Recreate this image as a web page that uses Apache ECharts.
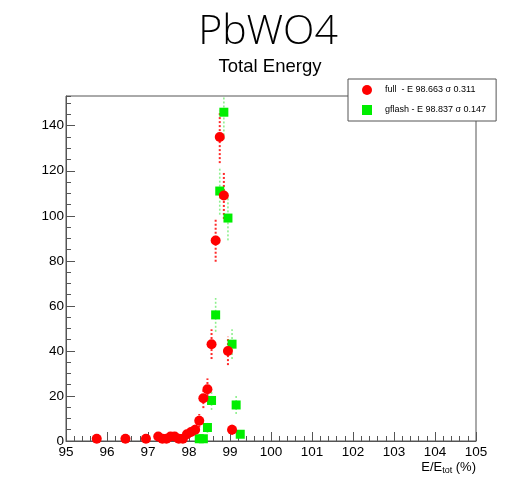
<!DOCTYPE html>
<html>
<head>
<meta charset="utf-8">
<script src="https://cdn.jsdelivr.net/npm/echarts@6/dist/echarts.min.js"></script>
<style>html,body{margin:0;padding:0;background:#fff}#c{width:509px;height:480px}</style>
</head>
<body>
<div id="c"></div>
<script>
// ---- data ----
const fullX   = [95.75, 96.45, 96.95, 97.25, 97.35, 97.45, 97.55, 97.65, 97.75, 97.85, 97.95, 98.05, 98.15, 98.25, 98.35, 98.45, 98.55, 98.65, 98.75, 98.85, 98.95, 99.05];
const fullY   = [1, 1, 1, 2, 1, 1, 2, 2, 1, 1, 3, 4, 5, 9, 19, 23, 43, 89, 135, 109, 40, 5];
const fullErr = [1, 1, 1, 1.4, 1, 1, 1.4, 1.4, 1, 1, 1.7, 2, 2.2, 3, 4.4, 4.8, 6.6, 9.4, 11.6, 10.4, 6.3, 2.2];
const gflashX   = [98.25, 98.35, 98.45, 98.55, 98.65, 98.75, 98.85, 98.95, 99.05, 99.15, 99.25];
const gflashY   = [1, 1, 6, 18, 56, 111, 146, 99, 43, 16, 3];
const gflashErr = [1, 1, 2.4, 4.2, 7.5, 10.5, 12.1, 9.9, 6.6, 4, 1.7];
const fullName = 'full  - E 98.663 σ 0.311';
const gflashName = 'gflash - E 98.837 σ 0.147';
const titleText = 'PbWO4';
const subTitleText = 'Total Energy';
const xAxisTitle = '{a|E/E}{sub|tot}{a| (%)}';
const xMin = 95, xMax = 105, yMin = 0, yMax = 153.2;

const chart = echarts.init(document.getElementById('c'), null, {renderer: 'canvas'});
const font = 'Liberation Sans, Arial, Helvetica, sans-serif';
const axisColor = '#555';

function errSeries(xs, ys, es, color, width) {
  return {
    type: 'custom',
    xAxisIndex: 0, yAxisIndex: 0,
    z: 2,
    silent: true,
    data: xs.map((x, i) => [x, ys[i], es[i]]),
    renderItem: function (params, api) {
      const x = api.value(0), y = api.value(1), e = api.value(2);
      const p1 = api.coord([x, Math.max(y - e, yMin)]);
      const p2 = api.coord([x, Math.min(y + e, yMax)]);
      return {
        type: 'line',
        shape: {x1: p1[0], y1: p1[1], x2: p2[0], y2: p2[1]},
        style: {stroke: color, lineWidth: width, lineDash: [2, 2]}
      };
    }
  };
}

const option = {
  animation: false,
  backgroundColor: '#fff',
  graphic: [
    {type: 'text', x: 268, y: 12, style: {text: titleText, fill: '#000', font: '300 41px "Open Sans", sans-serif', textAlign: 'center', textVerticalAlign: 'top'}},
    {type: 'text', x: 270, y: 57, style: {text: subTitleText, fill: '#000', font: '18.5px "Liberation Sans", Arial, sans-serif', textAlign: 'center', textVerticalAlign: 'top'}},
    {type: 'text', x: 476, y: 459, style: {
      text: xAxisTitle, align: 'right', verticalAlign: 'top',
      rich: {
        a: {fontFamily: font, fontSize: 13, fill: '#000'},
        sub: {fontFamily: font, fontSize: 9, fill: '#000', padding: [7, 0, 0, 0]}
      }
    }}
  ],
  legend: {
    left: 348, top: 79,
    orient: 'vertical',
    backgroundColor: '#fff',
    borderColor: axisColor,
    borderWidth: 1,
    borderRadius: 0,
    padding: [6, 10, 6, 14],
    itemGap: 10,
    itemWidth: 10, itemHeight: 10,
    textStyle: {fontFamily: font, fontSize: 9, color: '#000', padding: [0, 0, 0, 8]},
    data: [
      {name: fullName, icon: 'circle'},
      {name: gflashName, icon: 'rect'}
    ]
  },
  grid: {left: 66, right: 33, top: 96, bottom: 39, show: true, borderColor: axisColor, borderWidth: 1,
    backgroundColor: 'transparent', containLabel: false, outerBoundsMode: 'none'},
  xAxis: [{
    type: 'value', min: xMin, max: xMax, interval: 1,
    axisLine: {show: true, lineStyle: {color: axisColor, width: 1}},
    axisTick: {show: true, inside: true, length: 9, lineStyle: {color: axisColor}},
    minorTick: {show: true, splitNumber: 5, length: 5, lineStyle: {color: axisColor}},
    splitLine: {show: false},
    axisLabel: {color: '#000', fontFamily: font, fontSize: 13.5, margin: 4, hideOverlap: false}
  }],
  yAxis: [{
    type: 'value', min: yMin, max: yMax, interval: 20,
    axisLine: {show: true, lineStyle: {color: axisColor, width: 1}},
    axisTick: {show: true, inside: true, length: 9, lineStyle: {color: axisColor}},
    splitLine: {show: false},
    axisLabel: {color: '#000', fontFamily: font, fontSize: 13.5, margin: 2, showMaxLabel: false,
      formatter: v => (Math.abs(v % 20) < 1e-9 ? String(v) : '')}
  }, {
    type: 'value', min: yMin, max: yMax, interval: 5, position: 'left',
    axisLine: {show: false},
    axisTick: {show: true, inside: true, length: 5, lineStyle: {color: axisColor}},
    splitLine: {show: false},
    axisLabel: {show: false}
  }],
  series: [
    errSeries(fullX, fullY, fullErr, '#ff2a2a', 2),
    errSeries(gflashX, gflashY, gflashErr, '#8ef08e', 1.6),
    {
      name: gflashName, type: 'scatter', xAxisIndex: 0, yAxisIndex: 0, z: 3,
      symbol: 'rect', symbolSize: 9,
      itemStyle: {color: '#00ee00', opacity: 1},
      data: gflashX.map((x, i) => [x, gflashY[i]])
    },
    {
      name: fullName, type: 'scatter', xAxisIndex: 0, yAxisIndex: 0, z: 4,
      symbol: 'circle', symbolSize: 10,
      itemStyle: {color: '#ff0000', opacity: 1},
      data: fullX.map((x, i) => [x, fullY[i]])
    }
  ]
};
chart.setOption(option);
</script>
</body>
</html>
